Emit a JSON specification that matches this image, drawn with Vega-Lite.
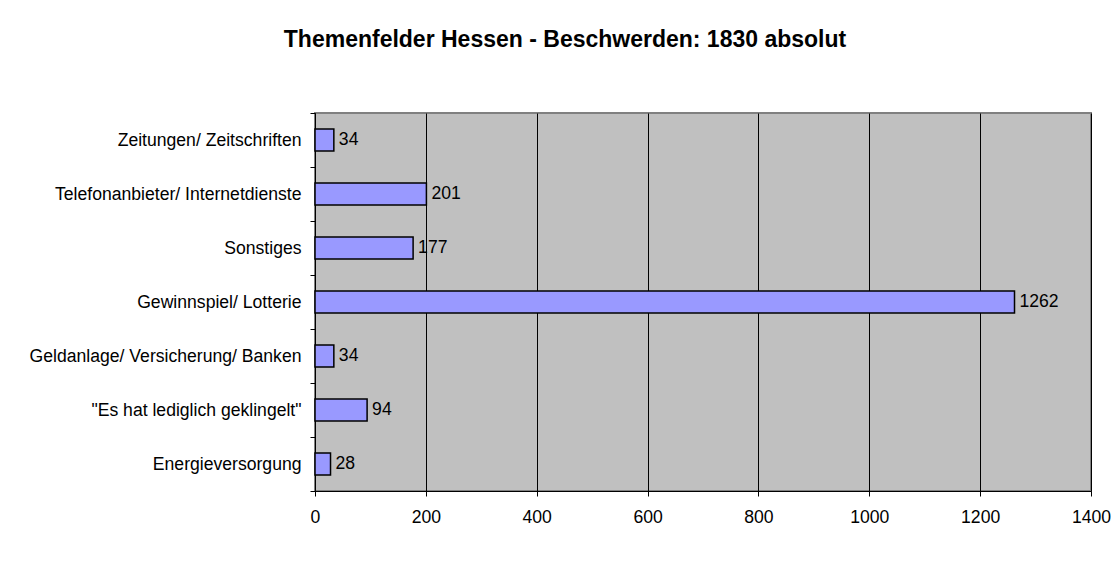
{
  "$schema": "https://vega.github.io/schema/vega-lite/v6.json",
  "width": 776,
  "height": 378,
  "autosize": "none",
  "padding": {"left": 315, "top": 113, "right": 23, "bottom": 92},
  "background": "white",
  "title": {
    "text": "Themenfelder Hessen - Beschwerden: 1830 absolut",
    "font": "Liberation Sans",
    "fontSize": 23,
    "fontWeight": "bold",
    "color": "black",
    "anchor": "middle",
    "dx": -138,
    "offset": 52
  },
  "config": {
    "view": {"fill": "#C0C0C0", "stroke": "#808080", "strokeWidth": 2},
    "font": "Liberation Sans"
  },
  "data": {
    "values": [
      {"thema": "Zeitungen/ Zeitschriften", "anzahl": 34},
      {"thema": "Telefonanbieter/ Internetdienste", "anzahl": 201},
      {"thema": "Sonstiges", "anzahl": 177},
      {"thema": "Gewinnspiel/ Lotterie", "anzahl": 1262},
      {"thema": "Geldanlage/ Versicherung/ Banken", "anzahl": 34},
      {"thema": "\"Es hat lediglich geklingelt\"", "anzahl": 94},
      {"thema": "Energieversorgung", "anzahl": 28}
    ]
  },
  "encoding": {
    "y": {
      "field": "thema",
      "type": "nominal",
      "sort": null,
      "scale": {"paddingInner": 0, "paddingOuter": 0},
      "axis": {
        "title": null,
        "tickBand": "extent",
        "tickSize": 5,
        "tickColor": "black",
        "domainColor": "black",
        "labelColor": "black",
        "labelFont": "Liberation Sans",
        "labelFontSize": 17.6,
        "labelPadding": 9,
        "labelLimit": 400,
        "grid": false
      }
    },
    "x": {
      "field": "anzahl",
      "type": "quantitative",
      "scale": {"domain": [0, 1400], "nice": false},
      "axis": {
        "title": null,
        "values": [0, 200, 400, 600, 800, 1000, 1200, 1400],
        "format": "d",
        "tickSize": 5,
        "tickColor": "black",
        "domainColor": "black",
        "labelColor": "black",
        "labelFont": "Liberation Sans",
        "labelFontSize": 17.6,
        "labelPadding": 12,
        "grid": true,
        "gridColor": "black",
        "gridOpacity": 1,
        "gridWidth": 1,
        "labelFlush": false
      }
    }
  },
  "layer": [
    {
      "mark": {"type": "bar", "size": 22, "fill": "#9999FF", "stroke": "black", "strokeWidth": 1.5}
    },
    {
      "mark": {"type": "text", "align": "left", "baseline": "middle", "dx": 5, "fontSize": 17.6, "color": "black", "font": "Liberation Sans"},
      "encoding": {"text": {"field": "anzahl", "type": "quantitative", "format": "d"}}
    }
  ]
}
